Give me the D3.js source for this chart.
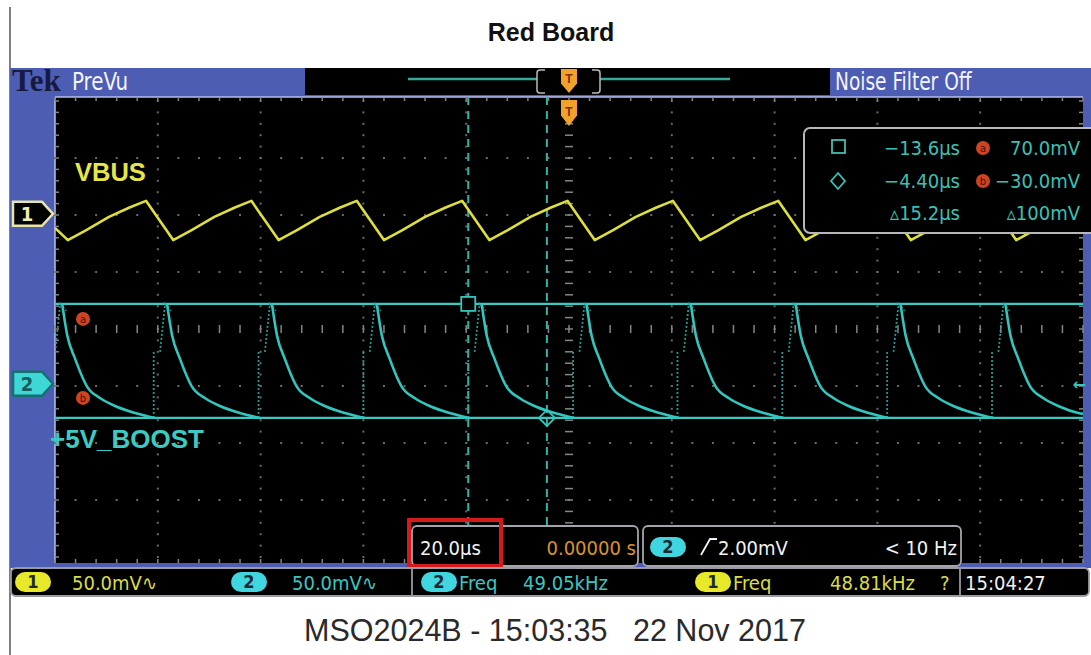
<!DOCTYPE html>
<html>
<head>
<meta charset="utf-8">
<script src="https://cdn.jsdelivr.net/npm/d3@7"></script>
<style>
  body { margin: 0; background: #fff; }
  svg { display: block; }
</style>
</head>
<body>
<div id="plot"></div>
<script>
// ---- data ----
const timePerDiv = 20;        // µs / div
const voltsPerDiv = 50;       // mV / div, both channels
const ch1PositionDiv = 2.02;  // ground marker offsets from centre
const ch2PositionDiv = -0.96;

// channel 1 (VBUS) trace, time in µs, level in mV
const vbusTime = [-100, -97.5, -94.0, -89.5, -85.5, -82.3,
  -77.0, -73.5, -69.0, -65.0, -61.8,
  -56.5, -53.0, -48.5, -44.5, -41.3,
  -36.0, -32.5, -28.0, -24.0, -20.8,
  -15.5, -12.0, -7.5, -3.5, -0.3,
  5.0, 8.5, 13.0, 17.0, 20.2,
  25.5, 29.0, 33.5, 37.5, 40.7,
  46.0, 49.5, 54.0, 58.0, 61.2,
  66.5, 70.0, 74.5, 78.5, 81.7,
  87.0, 90.5, 95.0, 99.0, 100];
const vbusMv = [-12.3, -23, -14.4, -2.7, 5.6, 11.4,
  -23, -14.4, -2.7, 5.6, 11.4,
  -23, -14.4, -2.7, 5.6, 11.4,
  -23, -14.4, -2.7, 5.6, 11.4,
  -23, -14.4, -2.7, 5.6, 11.4,
  -23, -14.4, -2.7, 5.6, 11.4,
  -23, -14.4, -2.7, 5.6, 11.4,
  -23, -14.4, -2.7, 5.6, 11.4,
  -23, -14.4, -2.7, 5.6, 11.4,
  -23, -14.4, -2.7, 5.6, 7.0];

// channel 2 (+5V_BOOST): one decay after each spike
const boostDecayTime = [
  [-98.6, -97.6, -96.1, -93.7, -91.1, -88.1, -84.6, -80.6],
  [-78.2, -77.2, -75.7, -73.3, -70.7, -67.7, -64.2, -60.2],
  [-57.8, -56.8, -55.3, -52.9, -50.3, -47.3, -43.8, -39.8],
  [-37.4, -36.4, -34.9, -32.5, -29.9, -26.9, -23.4, -19.4],
  [-17.0, -16.0, -14.5, -12.1, -9.5, -6.5, -3.0, 1.0],
  [3.4, 4.4, 5.9, 8.3, 10.9, 13.9, 17.4, 21.4],
  [23.7, 24.7, 26.2, 28.6, 31.2, 34.2, 37.7, 41.7],
  [44.1, 45.1, 46.6, 49.0, 51.6, 54.6, 58.1, 62.1],
  [64.5, 65.5, 67.0, 69.4, 72.0, 75.0, 78.5, 82.5],
  [84.9, 85.9, 87.4, 89.8, 92.4, 95.4, 98.9, 100]
];
const boostDecayMv = [
  [70, 42, 22, -3, -13, -20, -25.5, -30],
  [70, 42, 22, -3, -13, -20, -25.5, -30],
  [70, 42, 22, -3, -13, -20, -25.5, -30],
  [70, 42, 22, -3, -13, -20, -25.5, -30],
  [70, 42, 22, -3, -13, -20, -25.5, -30],
  [70, 42, 22, -3, -13, -20, -25.5, -30],
  [70, 42, 22, -3, -13, -20, -25.5, -30],
  [70, 42, 22, -3, -13, -20, -25.5, -30],
  [70, 42, 22, -3, -13, -20, -25.5, -30],
  [70, 42, 22, -3, -13, -20, -25.5, -26.5]
];
// faint ringing burst ahead of every spike
const ringTime = [-80.8, -60.4, -40.0, -19.6, 0.8, 21.1, 41.5, 61.9, 82.3];
const ringLowMv = -30;
const ringTopMv = 28;
const spikeTime = [-98.6, -78.2, -57.8, -37.4, -17.0, 3.4, 23.7, 44.1, 64.5, 84.9];
const spikeMv = 70;

// cursors
const cursorTime = [-19.6, -4.3];
const cursorMv = [70, -30];
const readoutTime = ["\u221213.6\u00b5s", "\u22124.40\u00b5s", "\u25b515.2\u00b5s"];
const readoutVolt = ["70.0mV", "\u221230.0mV", "\u25b5100mV"];

// status text
const title = "Red Board";
const caption = "MSO2024B - 15:03:35   22 Nov 2017";
const timebaseLabel = "20.0\u00b5s";
const positionLabel = "0.00000 s";
const triggerLevel = "2.00mV";
const triggerFreq = "< 10 Hz";
const chScale = ["50.0mV\u223f", "50.0mV\u223f"];
const measFreq = ["49.05kHz", "48.81kHz"];
const clock = "15:04:27";

// ---- layout ----
const W = 1091, H = 655;
const NARROW = "'Liberation Sans Narrow','Arial Narrow','DejaVu Sans Condensed',sans-serif";
const BLUE = "#4c5db3";
const YEL = "#dede3c";
const CYAN = "#32c6be";
const ORANGE = "#f0a22a";

const area = { x0: 55, x1: 1083, y0: 97, y1: 563 };
const gTop = 101, gBot = 557;

const x = d3.scaleLinear().domain([-5 * timePerDiv, 5 * timePerDiv]).range([area.x0, area.x1]);
const y1 = d3.scaleLinear()
  .domain([(-4 - ch1PositionDiv) * voltsPerDiv, (4 - ch1PositionDiv) * voltsPerDiv])
  .range([gBot, gTop]);
const y2 = d3.scaleLinear()
  .domain([(-4 - ch2PositionDiv) * voltsPerDiv, (4 - ch2PositionDiv) * voltsPerDiv])
  .range([gBot, gTop]);
const yDiv = d3.scaleLinear().domain([-4, 4]).range([gBot, gTop]);

const svg = d3.select("#plot").append("svg").attr("width", W).attr("height", H);
svg.append("rect").attr("width", W).attr("height", H).attr("fill", "#fff");

// squeeze a text node horizontally to mimic the scope's narrow font
const squeeze = (sel, f) => {
  const n = sel.node();
  const len = n.getComputedTextLength();
  sel.attr("textLength", len * f).attr("lengthAdjust", "spacingAndGlyphs");
  return sel;
};

// page left rule + title
svg.append("line").attr("x1", 10).attr("x2", 10).attr("y1", 7).attr("y2", H)
  .attr("stroke", "#555").attr("stroke-width", 1.5);
svg.append("text").attr("x", 551).attr("y", 41).attr("text-anchor", "middle")
  .attr("font-family", "Arial, 'Liberation Sans', sans-serif").attr("font-weight", "bold")
  .attr("font-size", 25).attr("fill", "#111").text(title);

// scope frame
svg.append("rect").attr("x", 10).attr("y", 68).attr("width", W - 10).attr("height", 500).attr("fill", BLUE);
// record view bar
svg.append("rect").attr("x", 305).attr("y", 68).attr("width", 525).attr("height", 27).attr("fill", "#000");
svg.append("text").attr("x", 12).attr("y", 91).attr("font-family", "'Liberation Serif', serif")
  .attr("font-weight", "bold").attr("font-size", 31).attr("fill", "#161a40").text("Tek");
squeeze(svg.append("text").attr("x", 72).attr("y", 90).attr("font-family", NARROW)
  .attr("font-size", 24).attr("fill", "#f4f4ff").text("PreVu"), 0.92);
squeeze(svg.append("text").attr("x", 835).attr("y", 90).attr("font-family", NARROW)
  .attr("font-size", 24).attr("fill", "#f4f4ff").text("Noise Filter Off"), 0.86);
const rec = svg.append("g");
rec.append("line").attr("x1", 408).attr("x2", 537).attr("y1", 79).attr("y2", 79)
  .attr("stroke", "#35a898").attr("stroke-width", 2.5);
rec.append("line").attr("x1", 600).attr("x2", 730).attr("y1", 79).attr("y2", 79)
  .attr("stroke", "#35a898").attr("stroke-width", 2.5);
rec.append("path").attr("d", "M545,70 H540 Q537,70 537,73 V90 Q537,93 540,93 H545 M592,70 H597 Q600,70 600,73 V90 Q600,93 597,93 H592")
  .attr("fill", "none").attr("stroke", "#bbb").attr("stroke-width", 1.5);

// graticule
svg.append("rect").attr("x", area.x0).attr("y", area.y0).attr("width", area.x1 - area.x0)
  .attr("height", area.y1 - area.y0).attr("fill", "#000");
svg.append("line").attr("x1", area.x0).attr("x2", area.x1).attr("y1", area.y0).attr("y2", area.y0)
  .attr("stroke", "#b8c0e8").attr("stroke-width", 1.5);
svg.append("line").attr("x1", area.x0).attr("x2", area.x0).attr("y1", area.y0).attr("y2", area.y1)
  .attr("stroke", "#b8c0e8").attr("stroke-width", 1.5);

const grid = svg.append("g").attr("fill", "#6a6a6a");
const minorX = d3.range(-25, 26).map(i => x(i * timePerDiv / 5));
const minorY = d3.range(-20, 21).map(i => yDiv(i / 5));
// dotted division lines
d3.range(-4, 5).filter(i => i !== 0).forEach(i => {
  grid.selectAll(null).data(minorY).join("rect")
    .attr("x", x(i * timePerDiv) - 1).attr("y", d => d - 1).attr("width", 2).attr("height", 2);
});
d3.range(-3, 4).filter(j => j !== 0).forEach(j => {
  grid.selectAll(null).data(minorX).join("rect")
    .attr("x", d => d - 1).attr("y", yDiv(j) - 1).attr("width", 2).attr("height", 2);
});
// centre cross with minor ticks
const cross = svg.append("g").attr("stroke", "#858585").attr("stroke-width", 1.5);
cross.selectAll(null).data(minorY).join("line")
  .attr("x1", x(0) - 4).attr("x2", x(0) + 4).attr("y1", d => d).attr("y2", d => d);
cross.selectAll(null).data(minorX).join("line")
  .attr("y1", yDiv(0) - 4).attr("y2", yDiv(0) + 4).attr("x1", d => d).attr("x2", d => d);
// edge ticks
cross.selectAll(null).data(minorX).join("line")
  .attr("y1", area.y0).attr("y2", area.y0 + 4).attr("x1", d => d).attr("x2", d => d);
cross.selectAll(null).data(minorX).join("line")
  .attr("y1", area.y1 - 4).attr("y2", area.y1).attr("x1", d => d).attr("x2", d => d);
cross.selectAll(null).data(minorY).join("line")
  .attr("x1", area.x0).attr("x2", area.x0 + 4).attr("y1", d => d).attr("y2", d => d);
cross.selectAll(null).data(minorY).join("line")
  .attr("x1", area.x1 - 4).attr("x2", area.x1).attr("y1", d => d).attr("y2", d => d);

// clip for traces
svg.append("clipPath").attr("id", "grat").append("rect")
  .attr("x", area.x0).attr("y", area.y0).attr("width", area.x1 - area.x0).attr("height", area.y1 - area.y0);
const plot = svg.append("g").attr("clip-path", "url(#grat)");

// vertical cursors (dashed)
plot.selectAll(null).data(cursorTime).join("line")
  .attr("x1", d => x(d)).attr("x2", d => x(d)).attr("y1", area.y0).attr("y2", area.y1)
  .attr("stroke", "#2fb4aa").attr("stroke-width", 2).attr("stroke-dasharray", "8,6");
// horizontal cursors
plot.selectAll(null).data(cursorMv).join("line")
  .attr("x1", area.x0).attr("x2", area.x1).attr("y1", d => y2(d)).attr("y2", d => y2(d))
  .attr("stroke", "#3bcac2").attr("stroke-width", 2.2);

// channel 2 faint ringing and leading flanks
const faint = plot.append("g").attr("stroke", "#2aa7a0").attr("stroke-width", 1.8)
  .attr("stroke-dasharray", "2,2").attr("fill", "none").attr("opacity", 0.9);
faint.selectAll(null).data(ringTime).join("line")
  .attr("x1", d => x(d)).attr("x2", d => x(d)).attr("y1", y2(ringLowMv)).attr("y2", y2(ringTopMv));
faint.selectAll(null).data(spikeTime).join("path")
  .attr("d", d => `M${x(d) - 7},${y2(ringTopMv)} L${x(d) - 2},${y2(spikeMv)} L${x(d) + 4},${y2(spikeMv - 6)}`);

// channel 2 decays
const line2 = d3.line().x(d => x(d[0])).y(d => y2(d[1])).curve(d3.curveMonotoneX);
plot.append("g").selectAll("path")
  .data(boostDecayTime.map((ts, i) => ts.map((t, j) => [t, boostDecayMv[i][j]])))
  .join("path").attr("d", line2).attr("fill", "none")
  .attr("stroke", CYAN).attr("stroke-width", 2.6);

// channel 1 trace
const line1 = d3.line().x(d => x(d[0])).y(d => y1(d[1]));
plot.append("path").datum(vbusTime.map((t, i) => [t, vbusMv[i]]))
  .attr("d", line1).attr("fill", "none").attr("stroke", YEL).attr("stroke-width", 2.6)
  .attr("stroke-linejoin", "round");

// cursor markers
plot.append("rect").attr("x", x(cursorTime[0]) - 7).attr("y", y2(cursorMv[0]) - 7)
  .attr("width", 14).attr("height", 14).attr("fill", "#000").attr("stroke", CYAN).attr("stroke-width", 1.8);
plot.append("path")
  .attr("d", `M${x(cursorTime[1])},${y2(cursorMv[1]) - 8} l8,8 l-8,8 l-8,-8 Z`)
  .attr("fill", "none").attr("stroke", CYAN).attr("stroke-width", 1.8);
[["a", y2(cursorMv[0]) + 15], ["b", y2(cursorMv[1]) - 20]].forEach(([k, yy]) => {
  plot.append("circle").attr("cx", 83).attr("cy", yy).attr("r", 7).attr("fill", "#cc4422");
  plot.append("text").attr("x", 83).attr("y", yy + 4).attr("text-anchor", "middle")
    .attr("font-family", NARROW).attr("font-size", 11).attr("fill", "#4a1208").text(k);
});

// trace labels
svg.append("text").attr("x", 75).attr("y", 181).attr("font-family", "Arial, 'Liberation Sans', sans-serif")
  .attr("font-weight", "bold").attr("font-size", 25.5).attr("fill", "#e6e64a").text("VBUS");
svg.append("text").attr("x", 50).attr("y", 448).attr("font-family", "Arial, 'Liberation Sans', sans-serif")
  .attr("font-weight", "bold").attr("font-size", 26).attr("fill", "#3ccac2").text("+5V_BOOST");

// trigger markers
const trig = (cx, top, h, hw) => {
  const g = svg.append("g");
  g.append("path").attr("d", `M${cx - hw},${top} H${cx + hw} V${top + h * 0.6} L${cx},${top + h} L${cx - hw},${top + h * 0.6} Z`)
    .attr("fill", ORANGE);
  g.append("text").attr("x", cx).attr("y", top + h * 0.6).attr("text-anchor", "middle")
    .attr("font-family", "Arial, sans-serif").attr("font-weight", "bold").attr("font-size", 12)
    .attr("fill", "#8a2a10").text("T");
};
trig(x(0), 69, 24, 8);
trig(x(0), 100, 26, 8);

// channel ground markers
const chMarker = (yy, fill, stroke, label, txtFill) => {
  svg.append("path").attr("d", `M13,${yy - 12} H42 L53,${yy} L42,${yy + 12} H13 Z`)
    .attr("fill", fill).attr("stroke", stroke).attr("stroke-width", 2.5);
  svg.append("text").attr("x", 27).attr("y", yy + 7).attr("text-anchor", "middle")
    .attr("font-family", NARROW).attr("font-weight", "bold").attr("font-size", 20)
    .attr("fill", txtFill).text(label);
};
chMarker(y1(0), "#000", "#e8e4a8", "1", "#eeeeb0");
chMarker(y2(0), "#3fd6d6", "#157070", "2", "#155e60");
svg.append("text").attr("x", 1086).attr("y", y2(0) + 6).attr("text-anchor", "end")
  .attr("font-family", "DejaVu Sans, sans-serif").attr("font-weight", "bold").attr("font-size", 16)
  .attr("fill", CYAN).text("\u2190");

// cursor readout box
const rb = svg.append("g");
rb.append("rect").attr("x", 804).attr("y", 128).attr("width", 300).attr("height", 105).attr("rx", 6)
  .attr("fill", "#000").attr("stroke", "#b8b8b8").attr("stroke-width", 2);
rb.append("rect").attr("x", 832).attr("y", 140).attr("width", 13).attr("height", 13)
  .attr("fill", "none").attr("stroke", "#3cc0b4").attr("stroke-width", 1.8);
rb.append("path").attr("d", "M838,173 l7,8 l-7,8 l-7,-8 Z")
  .attr("fill", "none").attr("stroke", "#3cc0b4").attr("stroke-width", 1.8);
const rowY = [155, 188, 220];
rb.selectAll(null).data(readoutTime).join("text")
  .attr("x", 960).attr("y", (d, i) => rowY[i]).attr("text-anchor", "end")
  .attr("font-family", NARROW).attr("font-size", 20).attr("fill", "#3cc0b4").text(d => d);
rb.selectAll(null).data(readoutVolt).join("text")
  .attr("x", 1080).attr("y", (d, i) => rowY[i]).attr("text-anchor", "end")
  .attr("font-family", NARROW).attr("font-size", 20).attr("fill", "#3cc0b4").text(d => d);
["a", "b"].forEach((k, i) => {
  rb.append("circle").attr("cx", 983).attr("cy", rowY[i] - 7).attr("r", 7).attr("fill", "#cc4422");
  rb.append("text").attr("x", 983).attr("y", rowY[i] - 3).attr("text-anchor", "middle")
    .attr("font-family", NARROW).attr("font-size", 11).attr("fill", "#4a1208").text(k);
});

// status boxes, row 1
const box = (x0, y0, w, h) => svg.append("rect").attr("x", x0).attr("y", y0).attr("width", w).attr("height", h)
  .attr("rx", 5).attr("fill", "#000").attr("stroke", "#a4a4ac").attr("stroke-width", 1.8);
box(412, 526, 226, 40);
box(643, 526, 318, 40);
const txt = (xx, yy, s, fill, anchor = "start", size = 20) => svg.append("text")
  .attr("x", xx).attr("y", yy).attr("text-anchor", anchor).attr("font-family", NARROW)
  .attr("font-size", size).attr("fill", fill).text(s);
txt(420, 555, timebaseLabel, "#f2f2f2");
txt(636, 555, positionLabel, "#d8922c", "end");
const pill = (xx, yy, fill, label) => {
  svg.append("rect").attr("x", xx).attr("y", yy).attr("width", 36).attr("height", 20).attr("rx", 10).attr("fill", fill);
  svg.append("text").attr("x", xx + 18).attr("y", yy + 16).attr("text-anchor", "middle")
    .attr("font-family", NARROW).attr("font-weight", "bold").attr("font-size", 18).attr("fill", "#1c2a30").text(label);
};
pill(650, 537, "#3fd6e0", "2");
svg.append("path").attr("d", "M701,555 L710,539 H717").attr("fill", "none").attr("stroke", "#f2f2f2").attr("stroke-width", 1.8);
txt(718, 555, triggerLevel, "#f2f2f2");
txt(957, 555, triggerFreq, "#f2f2f2", "end");

// red highlight around the timebase
svg.append("rect").attr("x", 409).attr("y", 520).attr("width", 92).attr("height", 46)
  .attr("fill", "none").attr("stroke", "#d41a1a").attr("stroke-width", 4);

// status row 2
svg.append("rect").attr("x", 11).attr("y", 568).attr("width", 1078).attr("height", 28).attr("rx", 5)
  .attr("fill", "#000").attr("stroke", "#9a9aa4").attr("stroke-width", 1.8);
svg.append("line").attr("x1", 412).attr("x2", 412).attr("y1", 568).attr("y2", 596).attr("stroke", "#9a9aa4").attr("stroke-width", 1.8);
svg.append("line").attr("x1", 960).attr("x2", 960).attr("y1", 568).attr("y2", 596).attr("stroke", "#9a9aa4").attr("stroke-width", 1.8);
pill(15, 572, "#e8e82a", "1");
txt(72, 590, chScale[0], "#dcdc44");
pill(231, 572, "#3fd6e0", "2");
txt(292, 590, chScale[1], "#3cc6c0");
pill(421, 572, "#3fd6e0", "2");
txt(459, 590, "Freq", "#3cc6c0");
txt(608, 590, measFreq[0], "#3cc6c0", "end");
pill(695, 572, "#e8e82a", "1");
txt(733, 590, "Freq", "#dcdc44");
txt(915, 590, measFreq[1], "#dcdc44", "end");
txt(940, 590, "?", "#dcdc44");
txt(965, 590, clock, "#f2f2f2");

// caption
svg.append("text").attr("x", 555).attr("y", 641).attr("text-anchor", "middle")
  .attr("font-family", "Arial, 'Liberation Sans', sans-serif").attr("font-size", 30.5)
  .attr("fill", "#2a2a2a").style("white-space", "pre").text(caption);
</script>
</body>
</html>
